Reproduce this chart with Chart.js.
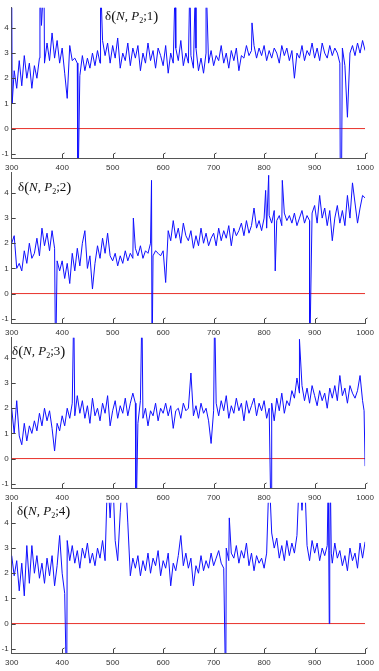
<!DOCTYPE html>
<html>
<head>
<meta charset="utf-8">
<script src="https://cdn.jsdelivr.net/npm/chart.js@4.4.1/dist/chart.umd.min.js"></script>
<style>
  body { margin: 0; background: #fff; width: 379px; height: 671px; overflow: hidden; position: relative; }
  .panel { position: absolute; left: 0; width: 379px; height: 172px; }
</style>
</head>
<body>
<div class="panel" style="top:0px"><canvas id="c1" width="379" height="172"></canvas></div>
<div class="panel" style="top:165px"><canvas id="c2" width="379" height="172"></canvas></div>
<div class="panel" style="top:330px"><canvas id="c3" width="379" height="172"></canvas></div>
<div class="panel" style="top:495px"><canvas id="c4" width="379" height="172"></canvas></div>
<script>
// sample grid: N = 300, 305, ..., 1000
const xStart = 300;
const xStep = 5;
const xTicks = [300, 400, 500, 600, 700, 800, 900, 1000];
const yTicks = [-1, 0, 1, 2, 3, 4];
const yMin = -1.17;
const yMax = 4.8;
const zeroLine = [0, 0];

// panel 1 : delta(N, P2; 1)
const delta1 = [
  6.0, 2.3, 1.6, 2.7, 1.7, 2.9, 2.0, 2.6, 1.6, 2.5,
  2.0, 2.8, 4.1, 2.6, 3.4, 2.7, 3.8, 2.8, 3.5, 2.6,
  3.2, 2.2, 1.2, 3.3, 2.7, 2.8, 2.6, 2.1, 2.9, 2.3,
  2.8, 2.4, 3.0, 2.5, 3.1, 2.6, 3.5, 2.9, 3.4, 2.6,
  3.3, 2.8, 3.6, 2.4, 3.0, 2.7, 3.4, 2.5, 3.2, 2.8,
  3.3, 2.3, 3.0, 2.6, 3.4, 2.7, 3.1, 2.4, 3.2, 2.9,
  2.5, 3.3, 2.2, 3.0, 2.6, 3.2, 2.7, 3.5, 2.5, 3.0,
  2.6, 2.9, 2.4, 3.2, 2.3, 2.8, 2.2, 3.0, 2.6, 3.1,
  2.5, 2.9, 2.7, 3.3, 2.6, 3.0, 2.4, 3.1, 2.7, 3.2,
  2.3, 2.9, 2.8, 3.3, 2.9, 3.1, 3.3, 2.8, 3.2, 2.9,
  3.3, 2.7, 3.1, 2.8, 3.2, 3.0, 2.6, 3.3, 2.9, 3.2,
  2.7, 3.1, 2.0, 3.0, 2.8, 3.3, 2.7, 3.1, 2.9, 3.4,
  2.8, 3.2, 2.7, 3.4, 3.0, 2.8, 3.3, 2.9, 3.2, 3.0,
  2.6, 3.2, 2.5, 0.45, 3.0, 3.3, 2.9, 3.4, 3.0, 3.5,
  3.1
];
const spikeX1 = [301, 356, 359, 364, 431, 476, 624, 653, 664, 685, 776, 951, 953];
const spikeY1 = [1.0, 6.0, 4.1, 6.0, -3, 6.0, 6.0, 6.0, 6.0, 6.0, 4.2, -3, -3];

// panel 2 : delta(N, P2; 2)
const delta2 = [
  2.0, 2.3, 1.0, 1.2, 0.9, 1.7, 1.2, 2.0, 1.4, 1.6,
  2.2, 1.5, 2.6, 1.9, 2.4, 1.7, 2.5, 1.8, 1.3, 0.9,
  1.3, 0.6, 1.2, 0.4, 1.6, 0.9, 1.8, 1.1, 2.0, 2.5,
  1.0, 1.5, 0.18, 1.2, 1.9, 1.4, 2.2, 1.6, 2.4, 1.5,
  1.3, 1.6, 1.1, 1.5, 1.2, 1.7, 1.3, 1.6, 1.4, 1.8,
  1.5, 1.9, 1.4, 1.7, 1.6, 2.0, 1.5, 1.7, 1.6, 1.5,
  1.7, 0.44, 2.5, 2.1, 2.9, 2.2, 2.6, 2.0, 2.8, 2.3,
  2.1, 2.5, 1.8, 2.3, 1.9, 2.6, 2.0, 2.4, 1.9, 2.2,
  2.4, 1.9, 2.6, 2.1, 2.5, 2.2, 2.7, 1.9, 2.6, 2.3,
  2.5, 2.8, 2.3, 2.9, 2.4, 2.7, 3.4, 2.6, 2.9, 2.5,
  3.0, 2.6, 3.1, 2.8, 3.3, 2.9, 3.1, 2.7, 3.2, 2.9,
  3.1, 2.8, 3.2, 2.7, 3.0, 3.3, 2.8, 3.1, 2.9, 3.2,
  3.5, 2.8, 3.9, 3.0, 3.4, 2.7, 3.3, 2.1, 3.0, 3.5,
  2.8, 3.3, 2.7, 3.9, 3.0, 4.4, 3.6, 2.8, 3.4, 3.9,
  3.8
];
const spikeX2 = [387, 541, 577, 578, 803, 809, 822, 836, 890];
const spikeY2 = [-3, 3.0, 4.5, -3, 4.1, 4.7, 0.9, 4.5, -3];

// panel 3 : delta(N, P2; 3)
const delta3 = [
  2.0, 1.0, 2.3, 0.9, 0.55, 1.4, 0.7, 1.3, 1.0, 1.5,
  1.1, 1.8, 1.3, 2.0, 1.5, 1.9, 1.2, 0.3, 1.4, 1.1,
  1.7, 1.3, 2.0, 1.6, 2.2, 1.7, 2.5, 1.8, 2.3, 1.6,
  2.1, 1.4, 2.4, 1.7, 2.0, 1.5, 2.2, 1.8, 2.5, 1.3,
  1.9, 2.3, 1.6, 2.1, 1.8, 2.4, 1.7, 2.2, 2.6, 2.2,
  1.4, 2.3, 1.6, 2.0, 1.3, 1.9, 1.7, 2.2, 1.5, 2.0,
  1.8, 2.2, 1.7, 2.1, 1.2, 1.9, 2.0, 1.6, 2.2, 1.9,
  2.0, 3.4, 1.7, 2.1, 1.6, 2.2, 1.8, 2.0, 1.5, 0.6,
  1.9, 2.2, 1.7, 2.3, 1.9, 2.5, 1.6, 2.1, 1.8, 2.4,
  1.9, 2.2, 1.5, 2.3, 1.8, 2.1, 2.4, 1.7, 2.2, 1.9,
  2.3, 1.6, 2.0, 2.2, 1.5, 2.4, 1.9, 2.6, 1.8, 2.3,
  2.1, 2.7, 2.4, 3.2, 2.6, 2.9, 2.3, 2.8, 2.2, 2.9,
  2.5, 2.1, 2.7, 2.3, 2.6, 2.0, 2.8, 2.4, 2.9, 2.3,
  3.3, 2.5, 2.8, 2.2, 2.9, 2.6, 2.4, 2.7, 3.3, 2.3,
  -0.3
];
const spikeX3 = [423, 546, 558, 702, 814, 870, 998];
const spikeY3 = [6.0, -3, 6.0, 6.0, -3, 4.74, 1.9];

// panel 4 : delta(N, P2; 4)
const delta4 = [
  2.7, 1.9, 2.5, 1.3, 2.4, 1.1, 3.1, 1.6, 3.1, 2.0,
  2.7, 1.8, 2.4, 1.6, 2.6, 1.9, 2.7, 1.5, 2.3, 3.5,
  2.0, 1.2, 3.3, 2.5, 3.1, 2.4, 2.9, 2.2, 3.0, 2.6,
  3.2, 2.4, 2.8, 2.3, 3.0, 2.6, 3.3, 2.5, 6.0, 4.2,
  6.0, 3.3, 2.5, 4.4, 6.0, 6.0, 4.0, 1.9, 2.6, 2.2,
  2.7, 1.9, 2.5, 2.1, 2.8, 2.0, 2.6, 2.3, 2.9, 1.9,
  2.5, 2.2, 2.8, 1.5, 2.4, 2.1, 2.7, 3.5, 2.3, 2.8,
  2.2, 2.6, 1.5, 2.3, 2.0, 2.7, 2.1, 2.5, 2.2, 2.8,
  2.3, 2.6, 2.9, 2.4, 2.2, 3.0, 2.5, 2.8, 2.6, 3.1,
  2.4, 2.9, 2.6, 3.2, 2.3, 2.8, 2.1, 2.7, 2.4, 2.6,
  2.2, 2.8, 6.0, 3.6, 3.0, 3.4, 2.6, 3.1, 2.5, 3.3,
  2.7, 3.2, 2.8, 3.5, 6.0, 4.5, 6.0, 3.1, 2.5, 3.3,
  2.8, 3.2, 2.5, 3.0, 2.7, 3.1, 2.9, 2.4, 3.2, 2.6,
  2.9, 2.3, 2.7, 2.1, 3.0, 2.5, 2.8, 2.2, 3.2, 2.6,
  3.25
];
const spikeX4 = [409, 724, 731, 927, 929, 931, 933];
const spikeY4 = [-3, -3, 4.2, 6.0, 0.0, 6.0, 2.8];

// merge grid values and spikes into one point list
function buildPoints(values, spikeX, spikeY) {
  const pts = values.map((v, i) => ({ x: xStart + i * xStep, y: v }));
  spikeX.forEach((x, i) => pts.push({ x: x, y: spikeY[i] }));
  pts.sort((a, b) => a.x - b.x);
  return pts;
}

// small tick marks drawn inside the plot
const innerTicks = {
  id: "innerTicks",
  afterDraw(chart) {
    const { ctx, chartArea, scales } = chart;
    ctx.save();
    ctx.strokeStyle = "#444";
    ctx.lineWidth = 1;
    ctx.beginPath();
    yTicks.forEach((v) => {
      const py = Math.round(scales.y.getPixelForValue(v)) + 0.5;
      ctx.moveTo(chartArea.left, py);
      ctx.lineTo(chartArea.left + 4, py);
    });
    xTicks.slice(1).forEach((v) => {
      const px = Math.round(scales.x.getPixelForValue(v)) + 0.5;
      ctx.moveTo(px, chartArea.bottom);
      ctx.lineTo(px, chartArea.bottom - 4);
      ctx.lineTo(px + 2, chartArea.bottom - 5);
    });
    ctx.stroke();
    ctx.restore();
  },
};

// label  delta(N, P2;k)
const panelTitle = {
  id: "panelTitle",
  afterDraw(chart, args, opts) {
    const ctx = chart.ctx;
    const serif = '"Liberation Serif", "DejaVu Serif", serif';
    const parts = [
      ["\u03b4", "", 13, 0],
      ["(", "", 15, 0],
      ["N", "italic ", 13, 0],
      [", ", "", 13, 0],
      ["P", "italic ", 13, 0],
      ["2", "", 8, 4],
      [";", "", 13, 0],
      [opts.k, "", 13, 0],
      [")", "", 15, 0],
    ];
    let x = opts.x;
    ctx.save();
    ctx.fillStyle = "#111";
    ctx.textBaseline = "middle";
    parts.forEach(([t, style, size, dy]) => {
      ctx.font = style + size + "px " + serif;
      ctx.fillText(t, x, opts.y + dy);
      x += ctx.measureText(t).width;
    });
    ctx.restore();
  },
};

const createPanel = (id, values, spikeX, spikeY, k, tx, ty) => {
  return new Chart(document.getElementById(id).getContext("2d"), {
    type: "line",
    data: {
      datasets: [
        {
          data: buildPoints(values, spikeX, spikeY),
          borderColor: "#1010ff",
          borderWidth: 1,
          pointRadius: 0,
          tension: 0,
        },
        {
          data: [{ x: 300, y: zeroLine[0] }, { x: 1000, y: zeroLine[1] }],
          borderColor: "#e8302a",
          borderWidth: 1,
          pointRadius: 0,
        },
      ],
    },
    options: {
      responsive: false,
      animation: false,
      layout: { padding: { top: 5, right: 9, left: 0, bottom: 0 } },
      scales: {
        x: {
          type: "linear",
          min: 300,
          max: 1000,
          afterFit: (s) => { s.height = 14; },
          afterBuildTicks: (s) => { s.ticks = xTicks.map((v) => ({ value: v })); },
          grid: { display: false, drawTicks: false, tickLength: 0 },
          border: { display: true, color: "#555", width: 1 },
          ticks: {
            padding: 5,
            color: "#333",
            font: { family: "Arial, Liberation Sans, sans-serif", size: 8 },
            maxRotation: 0,
            callback: (v) => String(v),
          },
        },
        y: {
          min: yMin,
          max: yMax,
          afterFit: (s) => { s.width = 10; },
          afterBuildTicks: (s) => { s.ticks = yTicks.map((v) => ({ value: v })); },
          grid: { display: false, drawTicks: false, tickLength: 0 },
          border: { display: true, color: "#555", width: 1 },
          ticks: { padding: 3, color: "#333", font: { family: "Arial, Liberation Sans, sans-serif", size: 8 } },
        },
      },
      plugins: {
        legend: { display: false },
        tooltip: { enabled: false },
        panelTitle: { k: k, x: tx, y: ty },
      },
    },
    plugins: [innerTicks, panelTitle],
  });
};

createPanel("c1", delta1, spikeX1, spikeY1, "1", 105, 17);
createPanel("c2", delta2, spikeX2, spikeY2, "2", 18, 23);
createPanel("c3", delta3, spikeX3, spikeY3, "3", 12, 22);
createPanel("c4", delta4, spikeX4, spikeY4, "4", 17, 17);
</script>
</body>
</html>
